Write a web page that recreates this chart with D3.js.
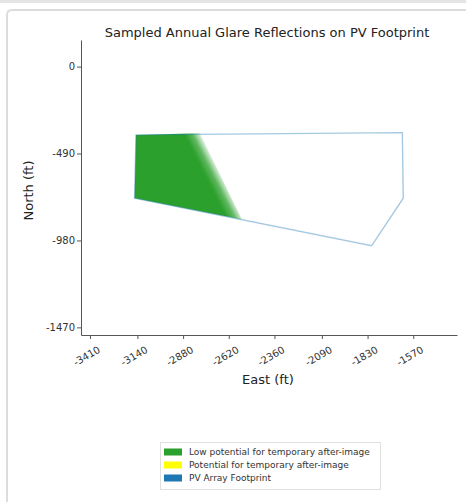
<!DOCTYPE html>
<html><head><meta charset="utf-8">
<script src="https://cdn.jsdelivr.net/npm/d3@7"></script>
<style>
html,body{margin:0;padding:0;background:#fff;}
svg{display:block;font-family:"DejaVu Sans",sans-serif;}
</style></head>
<body>
<svg id="c" width="466" height="502"></svg>
<script>
// ---- data ----
const title = "Sampled Annual Glare Reflections on PV Footprint";
const xLabel = "East (ft)";
const yLabel = "North (ft)";
const xTicks = [-3410, -3140, -2880, -2620, -2360, -2090, -1830, -1570];
const yTicks = [0, -490, -980, -1470];
const xDomain = [-3461, -1321];
const yDomain = [-1513, 150];
// PV footprint polygon vertices [east, north]
const footprint = [[-3148, -385], [-1632, -372], [-1627, -742], [-1807, -1010], [-3156, -742]];
// Sampled glare region (low potential) [east, north]
const glareLow = [[-3148, -385], [-2784, -375], [-2545, -862], [-3156, -742]];
// fade of the glare region edge: from fully dense to empty
const glareFadeFrom = [-2870, -385];
const glareFadeTo = [-2790, -345];
const legendItems = ["Low potential for temporary after-image", "Potential for temporary after-image", "PV Array Footprint"];
const legendColors = ["#2ca02c", "#ffff00", "#1f77b4"];

// ---- drawing ----
(function(){
const svg = d3.select("#c");
// page frame
svg.append("rect").attr("x",0).attr("y",0).attr("width",466).attr("height",3).attr("fill","#e4e4e4");
svg.append("path").attr("d","M7,502 L7,15 Q7,10 12,10 L466,10").attr("fill","none").attr("stroke","#dcdcdc").attr("stroke-width",2);

const mL = 81, mR = 457, mT = 40, mB = 335;
const x = d3.scaleLinear().domain(xDomain).range([mL, mR]);
const y = d3.scaleLinear().domain(yDomain).range([mB, mT]);

const defs = svg.append("defs");
const grad = defs.append("linearGradient").attr("id","fade").attr("gradientUnits","userSpaceOnUse")
  .attr("x1", x(glareFadeFrom[0])).attr("y1", y(glareFadeFrom[1]))
  .attr("x2", x(glareFadeTo[0])).attr("y2", y(glareFadeTo[1]));
grad.append("stop").attr("offset","0%").attr("stop-color","#2ca02c").attr("stop-opacity",1);
grad.append("stop").attr("offset","45%").attr("stop-color","#2ca02c").attr("stop-opacity",0.75);
grad.append("stop").attr("offset","100%").attr("stop-color","#2ca02c").attr("stop-opacity",0);

const line = d3.line().x(d => x(d[0])).y(d => y(d[1])).curve(d3.curveLinearClosed);

svg.append("path").attr("d", line(glareLow)).attr("fill","url(#fade)");
svg.append("path").attr("d", line(footprint)).attr("fill","none")
  .attr("stroke","#1f77b4").attr("stroke-opacity",0.4).attr("stroke-width",1.4);

// axes
const xAxis = svg.append("g").attr("transform",`translate(0,${mB})`)
  .call(d3.axisBottom(x).tickValues(xTicks).tickSize(4).tickSizeOuter(0).tickFormat(d => String(d)));
const yAxis = svg.append("g").attr("transform",`translate(${mL},0)`)
  .call(d3.axisLeft(y).tickValues(yTicks).tickSize(4).tickSizeOuter(0).tickFormat(d => String(d)));
[xAxis, yAxis].forEach(g => {
  g.select(".domain").attr("stroke","#555").attr("stroke-width",1);
  g.selectAll(".tick line").attr("stroke","#555");
  g.selectAll(".tick text").attr("fill","#333").attr("font-size",10).attr("font-family","DejaVu Sans");
});
xAxis.selectAll(".tick text").attr("text-anchor","middle").attr("dy",0).attr("y",0)
  .attr("transform","translate(-2,24) rotate(-30)");
yAxis.selectAll(".tick text").attr("x",-6);

svg.append("text").attr("x",(mL+mR)/2 - 2).attr("y",37).attr("text-anchor","middle")
  .attr("font-size",13).attr("fill","#222").text(title);
svg.append("text").attr("x",(mL+mR)/2 - 1).attr("y",384).attr("text-anchor","middle")
  .attr("font-size",13).attr("fill","#222").text(xLabel);
svg.append("text").attr("transform",`translate(33,${(mT+mB)/2 + 3}) rotate(-90)`).attr("text-anchor","middle")
  .attr("font-size",13).attr("fill","#222").text(yLabel);

// legend
const lg = svg.append("g");
lg.append("rect").attr("x",160.5).attr("y",442.5).attr("width",220).attr("height",47)
  .attr("fill","#fff").attr("stroke","#e0e0e0");
legendItems.forEach((t,i) => {
  const cy = 452 + i*13;
  lg.append("rect").attr("x",164).attr("y",cy-3.5).attr("width",18).attr("height",7).attr("fill",legendColors[i]);
  lg.append("text").attr("x",189).attr("y",cy+3).attr("font-size",9).attr("fill","#333").text(t);
});
})();
</script>
</body></html>
